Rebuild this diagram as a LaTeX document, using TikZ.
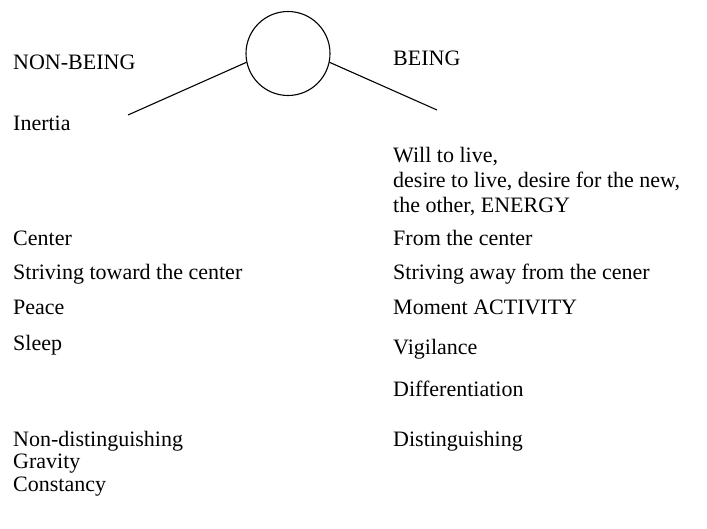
\documentclass[tikz,border=0pt]{standalone}
\usepackage{fontspec}
\setmainfont{Liberation Serif}
\begin{document}
\begin{tikzpicture}[x=1pt,y=-1pt,
  lbl/.style={anchor=base west,inner sep=0pt,font=\fontsize{22}{25}\selectfont},
  conn/.style={line width=1.1pt}]
\useasboundingbox (0,0) rectangle (707,529);
\node[draw,circle,line width=1.1pt,minimum size=84pt,inner sep=0pt] (c) at (288,53.5) {};
\coordinate (le) at (128,115);
\coordinate (re) at (437,110);
\draw[conn] (c.192) -- (le);
\draw[conn] (c.348) -- (re);
% left column
\node[lbl] (nb) at (13,70) {NON-BEING};
\node[lbl] (in) at (13,131) {Inertia};
\node[lbl] (ce) at (13,246) {Center};
\node[lbl] (st) at (13,280) {Striving toward the center};
\node[lbl] (pe) at (13,315) {Peace};
\node[lbl] (sl) at (13,351) {Sleep};
\node[lbl] (nd) at (13,446) {Non-distinguishing};
\node[lbl] (gr) at (13,468) {Gravity};
\node[lbl] (co) at (13,491) {Constancy};
% right column
\node[lbl] (be) at (393,66) {BEING};
\node[lbl] (w1) at (393,163) {Will to live,};
\node[lbl] (w2) at (393,188) {desire to live, desire for the new,};
\node[lbl] (w3) at (393,213) {the other, ENERGY};
\node[lbl] (fc) at (393,246) {From the center};
\node[lbl] (sa) at (393,280) {Striving away from the cener};
\node[lbl] (ma) at (393,315) {Moment ACTIVITY};
\node[lbl] (vi) at (393,355) {Vigilance};
\node[lbl] (di) at (393,396) {Differentiation};
\node[lbl] (ds) at (393,446) {Distinguishing};
\end{tikzpicture}
\end{document}
